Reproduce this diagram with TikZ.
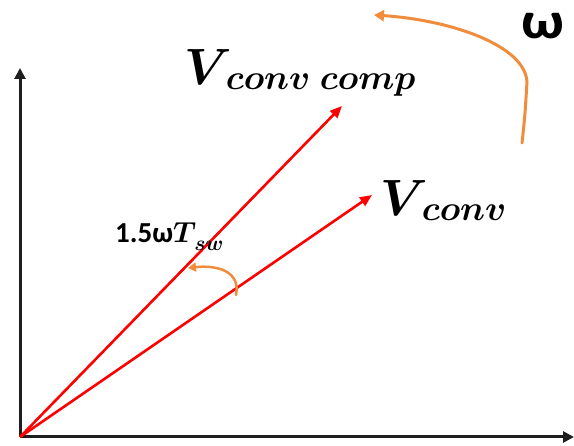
\RequirePackage{fix-cm}
\documentclass[tikz,border=0pt]{standalone}
\usepackage{amsmath,bm}
\usepackage{fontspec}
\newfontfamily\carlito{Carlito}
\usetikzlibrary{arrows.meta}
\newcommand{\subtxt}[1]{\raisebox{-5pt}{\fontsize{35}{35}\selectfont$\bm{#1}$}}
\begin{document}
\begin{tikzpicture}[x=1pt,y=-1pt,
  axis/.style={line width=3pt,draw={rgb,255:red,30;green,30;blue,30},-{Triangle[length=11pt,width=11pt]}},
  vec/.style={line width=2.6pt,draw=red,-{Triangle[length=12pt,width=10pt]},shorten <=0pt},
  rot/.style={line width=3pt,draw={rgb,255:red,240;green,140;blue,60},line cap=round,-{Triangle[length=10pt,width=11pt]}},
  lbl/.style={inner sep=0pt,anchor=base west}]
\useasboundingbox (0,0) rectangle (574,446);
\coordinate (O) at (20,437);
\coordinate (Ytip) at (20,68);
\coordinate (Xtip) at (574,437);
\coordinate (A) at (342,106);
\coordinate (B) at (372,195);
\draw[axis] (O) -- (Ytip);
\draw[axis] (O) -- (Xtip);
\draw[vec] (O) -- (A);
\draw[vec] (O) -- (B);
\node[lbl,font=\fontsize{51}{51}\selectfont] (lA) at (184,85) {$\bm{V}$\kern-6pt\subtxt{conv\;comp}};
\node[lbl,font=\fontsize{51}{51}\selectfont] (lB) at (380,216) {$\bm{V}$\kern-6pt\subtxt{conv}};
\node[lbl,font=\fontsize{29}{29}\selectfont] (lang) at (115,243) {{\carlito\bfseries 1.5ω}$\bm{T}$\kern-2pt\raisebox{-8pt}{\fontsize{21}{21}\selectfont$\bm{sw}$}};
\node[lbl,font=\fontsize{52}{52}\selectfont\carlito\bfseries,xscale=1.15] (lw) at (521,39) {ω};
\coordinate (s1) at (236,295);
\coordinate (e1) at (188,268);
\draw[rot,line width=2.5pt,-{Triangle[length=8pt,width=9pt]}] (s1) .. controls (241,270) and (215,265) .. (e1);
\coordinate (s2) at (522,143);
\coordinate (m2) at (527,82);
\coordinate (e2) at (374,15);
\draw[rot] (s2) .. controls (525,115) .. (m2) .. controls (525,45) and (450,20) .. (e2);
\end{tikzpicture}
\end{document}
